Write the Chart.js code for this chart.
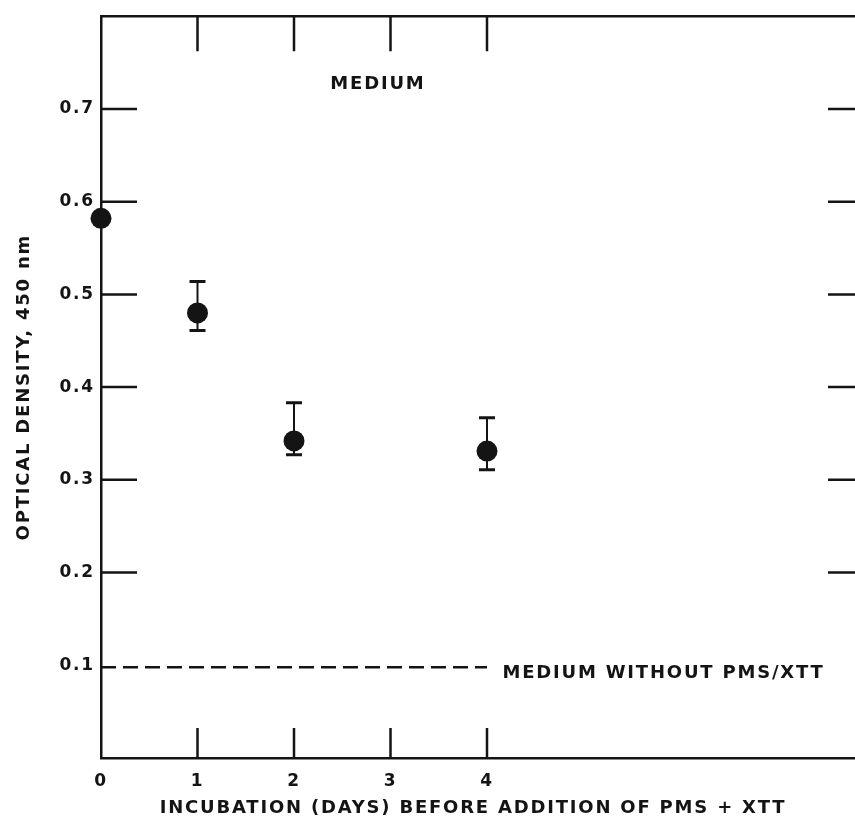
<!DOCTYPE html>
<html>
<head>
<meta charset="utf-8">
<script src="https://cdn.jsdelivr.net/npm/chart.js@4.4.1/dist/chart.umd.min.js"></script>
<style>
  html, body { margin: 0; padding: 0; background: #fff; overflow: hidden; }
  #wrap { width: 885px; height: 830px; }
</style>
</head>
<body>
<div id="wrap"><canvas id="chart"></canvas></div>
<script>
// ── Data ──
const days = [0, 1, 2, 4];
const density = [0.582, 0.480, 0.342, 0.331];
const densityHigh = [null, 0.514, 0.383, 0.367];
const densityLow = [null, 0.461, 0.327, 0.311];
const blankDays = [0, 4];
const blankDensity = [0.098, 0.098];
const xTickValues = [0, 1, 2, 3, 4];
const yTickValues = [0.1, 0.2, 0.3, 0.4, 0.5, 0.6, 0.7];
const innerTicksX = [1, 2, 3, 4];
const innerTicksY = [0.2, 0.3, 0.4, 0.5, 0.6, 0.7];

const INK = '#141414';
const FONT = "'DejaVu Sans', sans-serif";

// text placed in data coordinates
const notes = [
    { text: 'MEDIUM', x: 2.87, y: 0.726, align: 'center' },
    { text: 'MEDIUM WITHOUT PMS/XTT', x: 4.16, y: 0.091, align: 'left' },
    { text: 'INCUBATION (DAYS) BEFORE ADDITION OF PMS + XTT', x: 3.855, y: -0.054, align: 'center' }
];

// ── inward ticks, error bars, labels ──
const frameMarks = {
    id: 'frameMarks',
    beforeLayout(chart) { chart.ctx.letterSpacing = '1.8px'; },
    beforeDraw(chart) { chart.ctx.letterSpacing = '1.8px'; },
    beforeDatasetsDraw(chart) {
        const { ctx, scales: { x, y } } = chart;
        ctx.save();
        ctx.strokeStyle = INK;
        days.forEach((d, i) => {
            if (densityHigh[i] == null) return;
            const px = x.getPixelForValue(d);
            const hi = y.getPixelForValue(densityHigh[i]);
            const lo = y.getPixelForValue(densityLow[i]);
            ctx.lineWidth = 2;
            ctx.beginPath(); ctx.moveTo(px, hi); ctx.lineTo(px, lo); ctx.stroke();
            ctx.lineWidth = 3;
            ctx.beginPath();
            ctx.moveTo(px - 8, hi); ctx.lineTo(px + 8, hi);
            ctx.moveTo(px - 8, lo); ctx.lineTo(px + 8, lo);
            ctx.stroke();
        });
        ctx.restore();
    },
    afterDatasetsDraw(chart) {
        const { ctx, chartArea: a, scales: { x, y } } = chart;
        ctx.save();
        ctx.strokeStyle = INK;
        ctx.lineWidth = 2.5;
        ctx.beginPath();
        innerTicksX.forEach(v => {
            const px = x.getPixelForValue(v);
            ctx.moveTo(px, a.bottom); ctx.lineTo(px, a.bottom - 30);
            ctx.moveTo(px, a.top); ctx.lineTo(px, a.top + 35);
        });
        innerTicksY.forEach(v => {
            const py = y.getPixelForValue(v);
            ctx.moveTo(a.left, py); ctx.lineTo(a.left + 36, py);
            ctx.moveTo(a.right, py); ctx.lineTo(a.right - 45, py);
        });
        ctx.stroke();

        ctx.fillStyle = INK;
        ctx.font = 'bold 18px ' + FONT;
        ctx.textBaseline = 'middle';
        notes.forEach(n => {
            ctx.textAlign = n.align;
            ctx.fillText(n.text, x.getPixelForValue(n.x), y.getPixelForValue(n.y));
        });
        ctx.restore();
    }
};

const tickFont = { family: FONT, size: 17, weight: 'bold' };
const edge = { display: true, color: INK, width: 2.5 };

new Chart(document.getElementById('chart'), {
    type: 'scatter',
    data: {
        datasets: [
            {
                label: 'Medium',
                data: days.map((d, i) => ({ x: d, y: density[i] })),
                pointRadius: 10.5, pointBackgroundColor: INK, pointBorderWidth: 0,
                showLine: false, clip: false
            },
            {
                label: 'Medium without PMS/XTT',
                data: blankDays.map((d, i) => ({ x: d, y: blankDensity[i] })),
                showLine: true, borderColor: INK, borderWidth: 2.5,
                borderDash: [15, 7], pointRadius: 0
            }
        ]
    },
    options: {
        responsive: true, maintainAspectRatio: false, animation: false,
        layout: { padding: { top: 14, right: 12, left: 0, bottom: 0 } },
        plugins: { legend: { display: false }, tooltip: { enabled: false } },
        scales: {
            x: {
                type: 'linear', min: 0, max: 8, position: 'bottom',
                afterFit: s => { s.height = 72; },
                afterBuildTicks: s => { s.ticks = xTickValues.map(v => ({ value: v })); },
                grid: { display: false, drawTicks: false },
                border: edge,
                ticks: { color: INK, font: tickFont, padding: 13, maxRotation: 0, autoSkip: false }
            },
            y: {
                type: 'linear', min: 0, max: 0.8, position: 'left',
                afterFit: s => { s.width = 101; },
                afterBuildTicks: s => { s.ticks = yTickValues.map(v => ({ value: v })); },
                grid: { display: false, drawTicks: false },
                border: edge,
                ticks: { color: INK, font: tickFont, padding: 6, callback: v => v.toFixed(1) },
                title: {
                    display: true, text: 'OPTICAL DENSITY, 450 nm', color: INK,
                    font: { family: FONT, size: 18, weight: 'bold' },
                    padding: { top: 14, bottom: 0 }
                }
            },
            x2: {
                type: 'linear', min: 0, max: 8, position: 'top',
                afterFit: s => { s.height = 0; },
                grid: { display: false, drawTicks: false },
                border: edge,
                ticks: { display: false }
            },
            y2: {
                type: 'linear', min: 0, max: 0.8, position: 'right',
                afterFit: s => { s.width = 0; },
                grid: { display: false, drawTicks: false },
                border: edge,
                ticks: { display: false }
            }
        }
    },
    plugins: [frameMarks]
});
</script>
</body>
</html>
